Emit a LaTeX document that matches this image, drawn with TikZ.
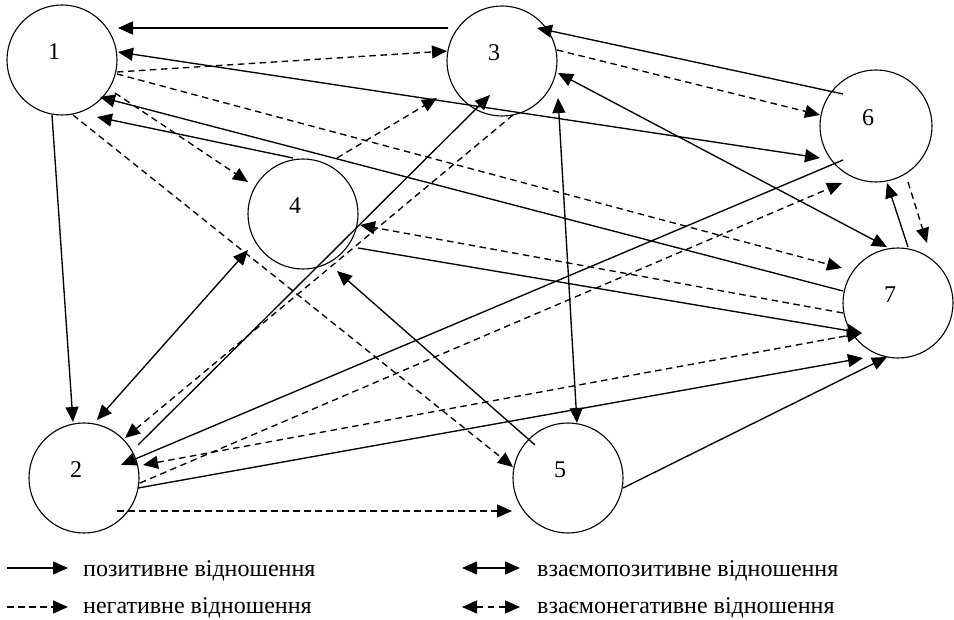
\documentclass[tikz,border=0pt]{standalone}
\usepackage{fontspec}
\setmainfont{Liberation Serif}
\usetikzlibrary{arrows.meta,calc}
\begin{document}
\begin{tikzpicture}[x=1pt,y=-1pt,
  vert/.style={circle,draw,line width=1.1pt,minimum size=110pt,inner sep=0pt},
  tipa/.tip={Triangle[length=15pt,width=13pt]},
  posarr/.style={line width=1.35pt,-tipa},
  negarr/.style={posarr,dash pattern=on 6.5pt off 4.5pt},
  posbi/.style={line width=1.35pt,tipa-tipa},
  negbi/.style={posbi,dash pattern=on 6.5pt off 4.5pt},
  lbl/.style={font=\fontsize{24}{28}\selectfont,inner sep=0pt}
]
\useasboundingbox (0,0) rectangle (954,620);
\node[vert,label={[lbl,xshift=-8pt,yshift=8pt]center:1}] (n1) at (62,60) {};
\node[vert,label={[lbl,xshift=-8pt,yshift=8pt]center:3}] (n3) at (502,61) {};
\node[vert,minimum size=112pt,label={[lbl,xshift=-8pt,yshift=8pt]center:6}] (n6) at (876,126) {};
\node[vert,label={[lbl,xshift=-8pt,yshift=8pt]center:4}] (n4) at (303,214) {};
\node[vert,label={[lbl,xshift=-8pt,yshift=8pt]center:7}] (n7) at (898,303) {};
\node[vert,label={[lbl,xshift=-8pt,yshift=8pt]center:2}] (n2) at (84,478) {};
\node[vert,label={[lbl,xshift=-8pt,yshift=8pt]center:5}] (n5) at (568,478) {};

% edges
\draw[posarr]  ($(n3)+(-54,-33)$) -- ($(n1)+(56,-32)$);
\draw[negarr]  ($(n1)+(55,12)$) -- ($(n3)+(-55,-10)$);
\draw[posbi] ($(n1)+(56,-8)$) -- ($(n6)+(-56,32)$);
\draw[negarr]  ($(n1)+(53,33)$) -- ($(n4)+(-55,-32)$);
\draw[posarr]  ($(n4)+(-10,-56)$) -- ($(n1)+(35,57)$);
\draw[posarr]  ($(n7)+(-55,-12)$) -- ($(n1)+(38,37)$);
\draw[posarr]  ($(n1)+(-10,55)$) -- ($(n2)+(-11,-56)$);
\draw[negarr]  ($(n1)+(11,55)$) -- ($(n5)+(-55,-11)$);
\draw[negarr]  ($(n1)+(55,14)$) -- ($(n7)+(-56,-35)$);
\draw[posbi] ($(n2)+(13,-58)$) -- ($(n4)+(-55,36)$);
\draw[posarr]  ($(n2)+(54,-33)$) -- ($(n3)+(-12,34)$);
\draw[negarr]  ($(n3)+(11,54)$) -- ($(n2)+(41,-40)$);
\draw[negarr]  ($(n4)+(34,-56)$) -- ($(n3)+(-65,37)$);
\draw[posbi] ($(n3)+(56,37)$) -- ($(n5)+(9,-55)$);
\draw[posarr]  ($(n6)+(-33,-32)$) -- ($(n3)+(35,-33)$);
\draw[negarr]  ($(n3)+(55,-11)$) -- ($(n6)+(-56,-11)$);
\draw[posbi] ($(n3)+(56,12)$) -- ($(n7)+(-11,-56)$);
\draw[posarr]  ($(n6)+(-33,34)$) -- ($(n2)+(37,-13)$);
\draw[negarr]  ($(n2)+(56,5)$) -- ($(n6)+(-34,57)$);
\draw[posarr]  ($(n4)+(55,34)$) -- ($(n7)+(-36,30)$);
\draw[negarr]  ($(n7)+(-55,10)$) -- ($(n4)+(57,11)$);
\draw[posarr]  ($(n5)+(-33,-33)$) -- ($(n4)+(34,57)$);
\draw[posarr]  ($(n7)+(10,-56)$) -- ($(n6)+(11,57)$);
\draw[negarr]  ($(n6)+(32,56)$) -- ($(n7)+(29,-60)$);
\draw[posarr]  ($(n2)+(54,10)$) -- ($(n7)+(-35,55)$);
\draw[posarr]  ($(n5)+(55,10)$) -- ($(n7)+(-11,54)$);
\draw[negarr]  ($(n2)+(33,33)$) -- ($(n5)+(-56,33)$);
\draw[negbi] ($(n2)+(59,-13)$) -- ($(n7)+(-36,30)$);

% legend
\coordinate (la1) at (7,568); \coordinate (lb1) at (68,568);
\coordinate (la2) at (7,607); \coordinate (lb2) at (68,607);
\coordinate (ra1) at (462,568); \coordinate (rb1) at (520,568);
\coordinate (ra2) at (462,607); \coordinate (rb2) at (520,607);
\draw[posarr] (la1) -- (lb1);
\draw[negarr] (la2) -- (lb2);
\draw[posbi] (ra1) -- (rb1);
\draw[negbi] (ra2) -- (rb2);
\node[lbl,anchor=base west] (t1) at (83,576) {позитивне відношення};
\node[lbl,anchor=base west] (t2) at (83,613) {негативне відношення};
\node[lbl,anchor=base west] (t3) at (537,576) {взаємопозитивне відношення};
\node[lbl,anchor=base west] (t4) at (537,613) {взаємонегативне відношення};
\end{tikzpicture}
\end{document}
